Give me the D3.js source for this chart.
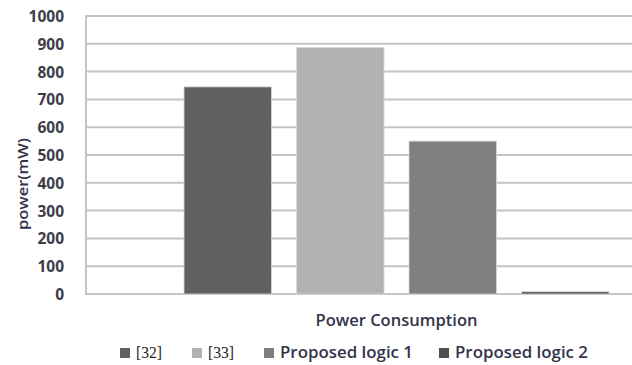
<!DOCTYPE html>
<html>
<head>
<meta charset="utf-8">
<script src="https://cdn.jsdelivr.net/npm/d3@7"></script>
<style>
  html, body { margin: 0; padding: 0; background: #fff; }
  svg { display: block; }
</style>
</head>
<body>
<svg id="chart" width="632" height="365"></svg>
<script>
// Power consumption per design, single category group
const category = "Power Consumption";
const seriesNames = ["[32]", "[33]", "Proposed logic 1", "Proposed logic 2"];
const seriesValues = [745, 887, 550, 8];
const seriesColors = ["#606060", "#b2b2b2", "#7f7f7f", "#4f4f4f"];
const yTicks = [0, 100, 200, 300, 400, 500, 600, 700, 800, 900, 1000];
const yTitle = "power(mW)";

const svg = d3.select("#chart");
const plot = { left: 86, top: 16, right: 707, bottom: 294 };

const y = d3.scaleLinear().domain([0, 1000]).range([plot.bottom, plot.top]);
const x0 = d3.scaleBand().domain([category]).range([plot.left, plot.right]).paddingOuter(0.2306);
const x1 = d3.scaleBand().domain(seriesNames).range([0, x0.bandwidth()]).paddingInner(0.2222).paddingOuter(0);

const sans = "'Open Sans', 'Noto Sans', sans-serif";
const serifFont = "'Liberation Serif', 'DejaVu Serif', serif";
const grid = "#c4c4c4";
const ink = "#33334a";

// horizontal gridlines
svg.append("g")
  .selectAll("line")
  .data(yTicks)
  .join("line")
  .attr("x1", plot.left).attr("x2", plot.right)
  .attr("y1", d => y(d)).attr("y2", d => y(d))
  .attr("stroke", grid).attr("stroke-width", 2);

// left axis line
svg.append("line")
  .attr("x1", plot.left).attr("x2", plot.left)
  .attr("y1", y(1000) - 1).attr("y2", y(0) + 1)
  .attr("stroke", grid).attr("stroke-width", 2);

// y axis labels
const yAxis = d3.axisLeft(y).tickValues(yTicks).tickFormat(d3.format("d")).tickSize(0).tickPadding(0);
const yg = svg.append("g").attr("transform", `translate(${plot.left - 22},0)`).call(yAxis);
yg.select(".domain").remove();
yg.selectAll("text")
  .attr("font-family", sans).attr("font-weight", "bold").attr("font-size", "15.5px")
  .attr("fill", "#3d3d4a").attr("dy", "0.36em");

// bars
svg.append("g")
  .attr("transform", `translate(${x0(category)},0)`)
  .selectAll("rect")
  .data(seriesNames.map((n, i) => ({ name: n, value: seriesValues[i], color: seriesColors[i] })))
  .join("rect")
  .attr("x", d => x1(d.name))
  .attr("width", x1.bandwidth())
  .attr("y", d => y(d.value))
  .attr("height", d => y(0) - y(d.value))
  .attr("fill", d => d.color)
  .attr("stroke", "#d8d8d8").attr("stroke-width", 0.8);

// y axis title
svg.append("text")
  .attr("transform", "translate(28,184) rotate(-90)")
  .attr("text-anchor", "middle")
  .attr("font-family", sans).attr("font-weight", "600").attr("font-size", "15px")
  .attr("textLength", 92).attr("lengthAdjust", "spacingAndGlyphs")
  .attr("fill", ink)
  .text(yTitle);

// x axis title
svg.append("text")
  .attr("x", x0(category) + x0.bandwidth() / 2).attr("y", 326)
  .attr("text-anchor", "middle")
  .attr("font-family", sans).attr("font-weight", "600").attr("font-size", "15.5px")
  .attr("textLength", 162).attr("lengthAdjust", "spacingAndGlyphs")
  .attr("fill", ink)
  .text(category);

// legend
const legendX = [120, 192, 264, 439];
const legendW = [26, 26, 133, 133];
const lg = svg.append("g");
seriesNames.forEach((n, i) => {
  lg.append("rect")
    .attr("x", legendX[i]).attr("y", 348).attr("width", 10).attr("height", 10)
    .attr("fill", seriesColors[i]);
  const serif = n.startsWith("[");
  lg.append("text")
    .attr("x", legendX[i] + 16).attr("y", 358)
    .attr("font-family", serif ? serifFont : sans)
    .attr("font-weight", serif ? "normal" : "600")
    .attr("font-size", serif ? "16px" : "15.5px")
    .attr("textLength", legendW[i]).attr("lengthAdjust", "spacingAndGlyphs")
    .attr("fill", serif ? "#222" : ink)
    .text(n);
});
</script>
</body>
</html>
